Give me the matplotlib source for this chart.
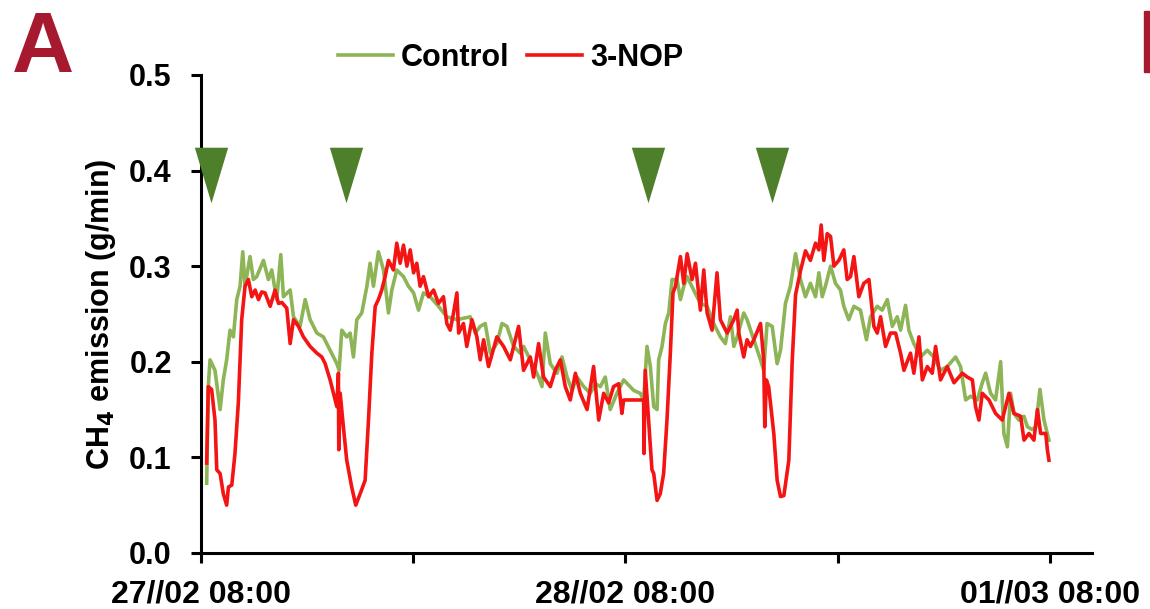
#%%imports
import matplotlib
matplotlib.use("Agg")
import matplotlib.pyplot as plt
from matplotlib.patches import Rectangle

plt.rcParams["font.family"] = ["Liberation Sans", "DejaVu Sans"]
plt.rcParams["font.weight"] = "bold"

#%%data (hours after 27/02 08:00, CH4 g/min)
ctrl_h = [0.32, 0.41, 0.51, 0.79, 1.08, 1.26, 1.45, 1.64, 1.83, 2.02, 2.21, 2.36, 2.49, 2.77, 2.96,
          3.15, 3.53, 3.81, 4.0, 4.28, 4.51, 4.66, 5.04, 5.23, 5.6, 5.89, 6.17, 6.55, 6.92, 7.3,
          7.68, 7.81, 7.96, 8.24, 8.43, 8.62, 8.81, 9.09, 9.38, 9.56, 9.75, 10.03, 10.32, 10.6, 10.79,
          11.07, 11.45, 11.73, 12.02, 12.3, 12.58, 12.96, 13.43, 13.9, 14.47, 15.22, 15.51, 15.79, 16.07, 16.36,
          16.73, 17.02, 17.3, 17.68, 18.05, 18.24, 18.62, 19.09, 19.28, 19.47, 19.75, 20.13, 20.41, 20.7, 20.98,
          21.26, 21.64, 22.01, 22.3, 22.58, 22.86, 23.14, 23.52, 23.9, 24.47, 24.84, 25.03, 25.22, 25.41, 25.6,
          25.79, 25.88, 26.07, 26.26, 26.45, 26.64, 26.92, 27.11, 27.3, 27.49, 27.86, 28.24, 28.62, 28.99, 29.37,
          29.65, 29.94, 30.13, 30.32, 30.69, 30.88, 31.26, 31.64, 31.82, 32.01, 32.3, 32.58, 32.77, 33.05, 33.33,
          33.62, 33.9, 34.18, 34.46, 34.75, 34.94, 35.13, 35.31, 35.6, 35.88, 36.16, 36.35, 36.63, 36.92, 37.29,
          37.63, 37.86, 38.24, 38.52, 38.81, 39.09, 39.37, 39.56, 39.84, 40.03, 40.31, 40.69, 41.07, 41.44, 41.82,
          42.2, 42.67, 42.95, 43.24, 43.52, 43.9, 44.18, 44.37, 44.65, 44.93, 45.22, 45.4, 45.6, 45.78, 45.97,
          46.25, 46.54, 46.73, 47.01, 47.2, 47.44, 47.67, 47.86, 47.95]
ctrl_v = [0.073, 0.174, 0.202, 0.191, 0.150, 0.181, 0.202, 0.233, 0.226, 0.265, 0.279, 0.315, 0.279, 0.310, 0.286,
          0.289, 0.306, 0.286, 0.296, 0.265, 0.312, 0.268, 0.275, 0.247, 0.237, 0.265, 0.244, 0.230, 0.226, 0.212,
          0.198, 0.191, 0.233, 0.226, 0.230, 0.205, 0.244, 0.251, 0.279, 0.303, 0.279, 0.315, 0.296, 0.251, 0.275,
          0.296, 0.289, 0.279, 0.272, 0.254, 0.272, 0.268, 0.258, 0.247, 0.244, 0.247, 0.230, 0.237, 0.240, 0.209,
          0.219, 0.240, 0.237, 0.216, 0.209, 0.216, 0.202, 0.184, 0.174, 0.230, 0.198, 0.188, 0.205, 0.184, 0.170,
          0.184, 0.174, 0.167, 0.177, 0.174, 0.184, 0.150, 0.167, 0.181, 0.170, 0.167, 0.160, 0.216, 0.195, 0.153,
          0.150, 0.202, 0.216, 0.240, 0.251, 0.286, 0.286, 0.265, 0.279, 0.289, 0.275, 0.261, 0.258, 0.240, 0.226,
          0.219, 0.247, 0.216, 0.226, 0.251, 0.244, 0.223, 0.202, 0.191, 0.240, 0.237, 0.198, 0.212, 0.261, 0.279,
          0.313, 0.286, 0.268, 0.282, 0.268, 0.293, 0.268, 0.279, 0.300, 0.282, 0.275, 0.258, 0.244, 0.258, 0.254,
          0.223, 0.247, 0.258, 0.254, 0.265, 0.237, 0.247, 0.233, 0.259, 0.233, 0.219, 0.205, 0.212, 0.205, 0.191,
          0.195, 0.205, 0.195, 0.160, 0.164, 0.160, 0.178, 0.188, 0.167, 0.160, 0.200, 0.125, 0.111, 0.167, 0.146,
          0.139, 0.143, 0.132, 0.129, 0.132, 0.171, 0.139, 0.125, 0.118]

nop_h = [0.32, 0.41, 0.6, 0.79, 0.89, 1.08, 1.26, 1.45, 1.55, 1.74, 1.92, 2.11, 2.3, 2.49, 2.68,
         2.87, 3.06, 3.25, 3.43, 3.62, 3.91, 4.19, 4.38, 4.57, 4.85, 5.04, 5.23, 5.51, 5.79, 6.17,
         6.55, 6.83, 7.02, 7.3, 7.68, 7.77, 7.79, 7.87, 8.05, 8.24, 8.52, 8.75, 9.0, 9.28, 9.47,
         9.66, 9.85, 10.03, 10.22, 10.41, 10.6, 10.88, 11.07, 11.26, 11.45, 11.64, 11.83, 12.02, 12.2, 12.39,
         12.58, 12.87, 13.15, 13.43, 13.71, 13.9, 14.09, 14.28, 14.47, 14.57, 14.84, 15.03, 15.32, 15.6, 15.79,
         15.98, 16.26, 16.73, 17.11, 17.49, 17.96, 18.24, 18.62, 18.81, 19.09, 19.37, 19.75, 20.03, 20.32, 20.6,
         20.88, 21.17, 21.45, 21.83, 22.2, 22.49, 22.77, 23.05, 23.33, 23.62, 23.8, 23.9, 25.03, 25.05, 25.12,
         25.31, 25.5, 25.6, 25.79, 25.97, 26.16, 26.35, 26.54, 26.69, 26.83, 27.11, 27.3, 27.49, 27.77, 27.96,
         28.24, 28.43, 28.62, 28.9, 29.18, 29.37, 29.75, 30.13, 30.32, 30.41, 30.69, 30.88, 31.07, 31.26, 31.64,
         31.82, 31.88, 31.97, 32.1, 32.39, 32.58, 32.77, 32.96, 33.24, 33.43, 33.62, 33.9, 34.18, 34.46, 34.75,
         34.94, 35.07, 35.22, 35.41, 35.6, 35.79, 36.07, 36.35, 36.54, 36.73, 36.92, 37.2, 37.48, 37.77, 38.05,
         38.24, 38.43, 38.71, 38.99, 39.28, 39.56, 39.75, 40.12, 40.31, 40.6, 40.79, 41.07, 41.35, 41.54, 41.82,
         42.2, 42.58, 43.05, 43.33, 43.62, 43.8, 43.99, 44.18, 44.56, 44.93, 45.31, 45.69, 45.97, 46.35, 46.54,
         46.82, 47.1, 47.3, 47.48, 47.77, 47.86, 47.95]
nop_v = [0.094, 0.174, 0.171, 0.139, 0.087, 0.083, 0.062, 0.050, 0.069, 0.071, 0.104, 0.157, 0.244, 0.279, 0.286,
         0.268, 0.275, 0.265, 0.273, 0.272, 0.258, 0.275, 0.261, 0.262, 0.256, 0.219, 0.244, 0.237, 0.226, 0.216,
         0.209, 0.205, 0.198, 0.181, 0.153, 0.188, 0.108, 0.167, 0.132, 0.097, 0.069, 0.050, 0.062, 0.076, 0.139,
         0.209, 0.258, 0.265, 0.275, 0.289, 0.306, 0.296, 0.324, 0.303, 0.322, 0.300, 0.317, 0.293, 0.303, 0.279,
         0.289, 0.268, 0.275, 0.261, 0.268, 0.240, 0.233, 0.251, 0.272, 0.230, 0.240, 0.216, 0.244, 0.226, 0.202,
         0.223, 0.195, 0.226, 0.216, 0.202, 0.237, 0.191, 0.205, 0.184, 0.219, 0.184, 0.174, 0.191, 0.202, 0.174,
         0.160, 0.188, 0.167, 0.150, 0.195, 0.139, 0.167, 0.157, 0.174, 0.177, 0.146, 0.160, 0.160, 0.104, 0.191,
         0.139, 0.087, 0.083, 0.055, 0.062, 0.083, 0.139, 0.209, 0.272, 0.279, 0.310, 0.282, 0.313, 0.286, 0.303,
         0.254, 0.296, 0.251, 0.233, 0.293, 0.244, 0.230, 0.244, 0.254, 0.230, 0.205, 0.223, 0.216, 0.223, 0.240,
         0.202, 0.132, 0.181, 0.174, 0.125, 0.076, 0.059, 0.060, 0.097, 0.200, 0.270, 0.295, 0.316, 0.306, 0.324,
         0.317, 0.343, 0.306, 0.334, 0.331, 0.300, 0.306, 0.317, 0.286, 0.289, 0.310, 0.268, 0.282, 0.286, 0.237,
         0.230, 0.247, 0.216, 0.230, 0.230, 0.209, 0.191, 0.209, 0.188, 0.226, 0.181, 0.195, 0.188, 0.216, 0.181,
         0.195, 0.178, 0.188, 0.184, 0.181, 0.153, 0.139, 0.167, 0.160, 0.146, 0.139, 0.167, 0.146, 0.143, 0.118,
         0.125, 0.118, 0.150, 0.125, 0.125, 0.108, 0.097]

feed_h = [0.57, 8.2, 25.3, 32.3]        #feeding times (arrowheads)
feed_v = [0.395] * 4

tick_h = [0, 24, 48]
tick_labels = ["27//02 08:00", "28//02 08:00", "01//03 08:00"]


#%%plot
def main():
    fig = plt.figure(figsize=(11.5, 6.09), dpi=100)
    ax = fig.add_axes([0.1748, 0.092, 0.775, 0.785])

    ax.plot(ctrl_h, ctrl_v, color="#8db456", lw=2.6, label="Control", zorder=2)
    ax.plot(nop_h, nop_v, color="#f41414", lw=2.6, label="3-NOP", zorder=3)

    tri = [(-0.3, 0.5), (0.3, 0.5), (0.0, -0.5), (-0.3, 0.5)]
    ax.plot(feed_h, feed_v, ls="none", marker=tri, markersize=40,
            color="#4e7f2b", mec="none", clip_on=False, zorder=5)

    ax.set_xlim(0, 50.4)
    ax.set_ylim(0, 0.5)
    ax.set_yticks([0, 0.1, 0.2, 0.3, 0.4, 0.5])
    ax.set_yticklabels([f"{v:.1f}" for v in [0, 0.1, 0.2, 0.3, 0.4, 0.5]])
    ax.set_xticks(tick_h)
    ax.set_xticklabels(tick_labels)
    ax.set_xticks([12, 36], minor=True)

    for s in ["top", "right"]:
        ax.spines[s].set_visible(False)
    for s in ["left", "bottom"]:
        ax.spines[s].set_linewidth(2.2)
    ax.tick_params(axis="both", which="both", direction="out", width=2.2, length=7,
                   labelsize=22)
    ax.tick_params(axis="y", pad=14)
    ax.tick_params(axis="x", pad=12, labelsize=23)

    ax.set_ylabel("CH$_\\mathbf{4}$ emission (g/min)", fontsize=22, fontweight="bold", labelpad=8)

    ax.legend(loc="center", bbox_to_anchor=(0.444, 0.905), bbox_transform=fig.transFigure,
              ncol=2, frameon=False, fontsize=22, handlelength=1.8, handletextpad=0.25,
              columnspacing=0.6)

    fig.text(12 / 1150, 1 - 72 / 609, "A", fontsize=62, fontweight="bold",
             color="#a6192e", ha="left", va="baseline")
    fig.patches.append(Rectangle((1144 / 1150, 1 - 72 / 609), 6 / 1150, 61 / 609,
                                 transform=fig.transFigure, color="#a6192e"))

    fig.savefig("out.png", dpi=100)


if __name__ == "__main__":
    main()
